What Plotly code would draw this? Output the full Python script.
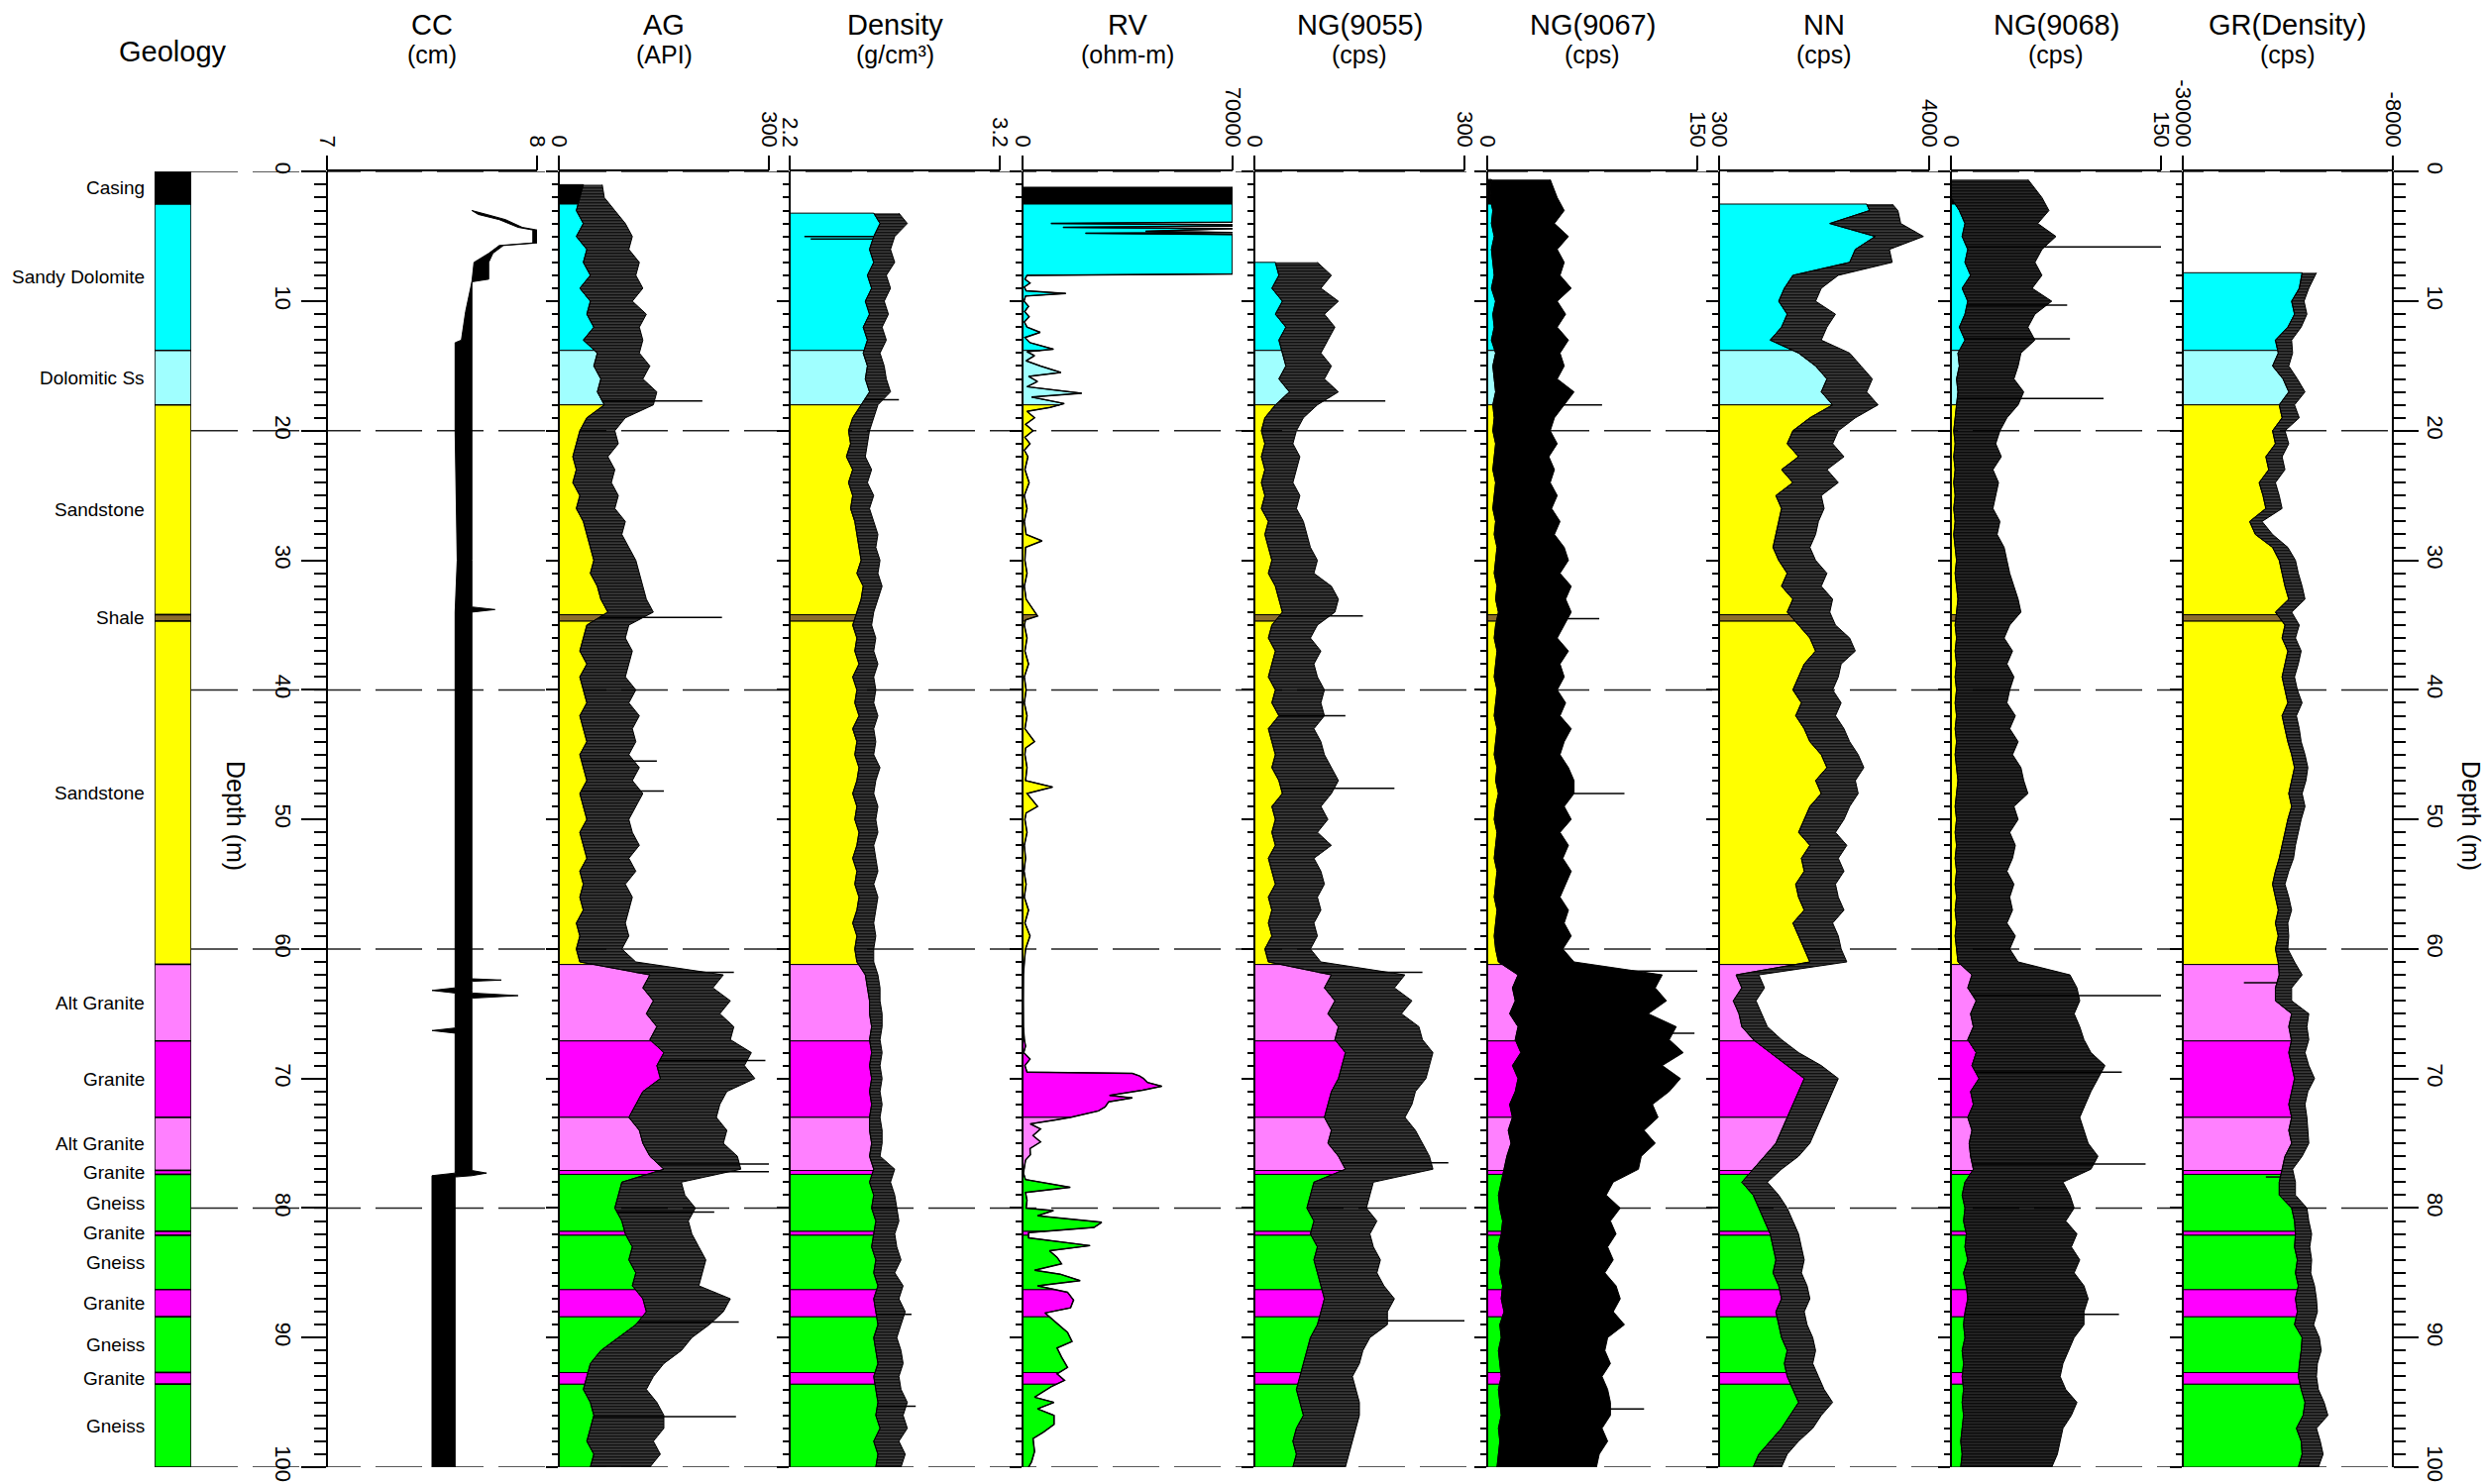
import numpy as np
import plotly.graph_objects as go

W, H = 2507, 1498
FONT = "Liberation Sans, Arial, sans-serif"

# ---------------- lithology column (depth in m) ----------------
LITH_TOP = [0.0, 2.5, 13.8, 18.0, 34.2, 34.7, 61.2, 67.1, 73.0, 77.1, 77.4,
            81.8, 82.1, 86.3, 88.4, 92.7, 93.6]
LITH_BOTTOM = [2.5, 13.8, 18.0, 34.2, 34.7, 61.2, 67.1, 73.0, 77.1, 77.4, 81.8,
               82.1, 86.3, 88.4, 92.7, 93.6, 100.0]
LITH_NAME = ["Casing", "Sandy Dolomite", "Dolomitic Ss", "Sandstone", "Shale",
             "Sandstone", "Alt Granite", "Granite", "Alt Granite", "Granite",
             "Gneiss", "Granite", "Gneiss", "Granite", "Gneiss", "Granite", "Gneiss"]
LITH_COLORS = {
    "Casing": "#000000", "Sandy Dolomite": "#00FFFF", "Dolomitic Ss": "#A0FFFF",
    "Sandstone": "#FFFF00", "Shale": "#8C6D2C", "Alt Granite": "#FF80FF",
    "Granite": "#FF00FF", "Gneiss": "#00FF00",
}

# ---------------- CC caliper (cm): low / high edge of the trace ----------------
CC_DEPTH = [3.0, 3.3, 3.7, 4.3, 4.5, 5.5, 5.7, 6.3, 7.0, 8.3,
            8.5, 10.8, 13.0, 13.2, 20, 30, 33.6, 33.8, 34.0, 40,
            50, 60, 62.3, 62.4, 62.5, 63.0, 63.2, 63.4, 63.6, 63.8,
            66.1, 66.3, 66.5, 77.1, 77.3, 77.5, 77.6, 100]
CC_LO = [7.69, 7.72, 7.82, 7.91, 7.98, 7.98, 7.82, 7.77, 7.70, 7.69,
         7.69, 7.66, 7.64, 7.61, 7.61, 7.62, 7.61, 7.61, 7.61, 7.61,
         7.61, 7.61, 7.61, 7.61, 7.61, 7.61, 7.50, 7.61, 7.61, 7.61,
         7.61, 7.50, 7.61, 7.61, 7.61, 7.50, 7.50, 7.50]
CC_HI = [7.69, 7.76, 7.85, 7.93, 8.00, 8.00, 7.84, 7.79, 7.77, 7.77,
         7.69, 7.69, 7.69, 7.69, 7.69, 7.69, 7.69, 7.80, 7.69, 7.69,
         7.69, 7.69, 7.69, 7.83, 7.69, 7.69, 7.69, 7.69, 7.91, 7.69,
         7.69, 7.69, 7.69, 7.69, 7.76, 7.69, 7.61, 7.61]

# ---------------- AG gamma (API) ----------------
AG_DEPTH = list(range(1, 101))
AG_LO = [35, 30, 25, 35, 25, 40, 35, 45, 30, 45,
         40, 50, 35, 55, 50, 60, 55, 65, 40, 30,
         25, 20, 25, 20, 30, 25, 35, 40, 45, 50,
         45, 55, 60, 70, 40, 35, 30, 40, 30, 35,
         40, 30, 35, 40, 30, 35, 40, 30, 35, 40,
         30, 35, 40, 30, 35, 30, 35, 25, 30, 25,
         30, 130, 120, 135, 125, 140, 130, 150, 140, 145,
         120, 110, 100, 115, 120, 130, 150, 90, 85, 80,
         90, 95, 105, 100, 110, 105, 120, 125, 110, 85,
         60, 45, 40, 35, 45, 50, 45, 40, 50, 45]
AG_HI = [62, 65, 80, 95, 105, 100, 115, 110, 120, 105,
         125, 115, 120, 115, 130, 120, 140, 135, 95, 80,
         85, 70, 80, 75, 85, 80, 95, 90, 100, 110,
         115, 120, 125, 135, 100, 95, 105, 100, 95, 110,
         100, 115, 105, 110, 100, 115, 105, 120, 110, 100,
         105, 115, 100, 110, 95, 105, 100, 95, 100, 90,
         110, 235, 220, 245, 230, 250, 245, 275, 265, 280,
         240, 230, 225, 240, 235, 255, 260, 175, 180, 195,
         185, 190, 200, 210, 205, 200, 245, 235, 215, 190,
         175, 150, 135, 125, 140, 150, 150, 135, 145, 130]
AG_SPIKE_DEPTH = [17.7, 34.4, 45.5, 47.8, 61.8, 68.6, 76.6, 77.2, 80.3, 88.8, 96.1]
AG_SPIKE_VALUE = [205, 233, 140, 150, 250, 295, 300, 310, 222, 257, 253]

# ---------------- Density (g/cm3) ----------------
DEN_DEPTH = [3.2] + list(range(4, 101))
DEN_LO = [2.60, 2.63, 2.60, 2.58, 2.60, 2.57, 2.59, 2.56, 2.58, 2.55,
          2.57, 2.55, 2.57, 2.56, 2.58, 2.54, 2.50, 2.48, 2.49, 2.47,
          2.50, 2.48, 2.50, 2.49, 2.51, 2.52, 2.53, 2.54, 2.52, 2.55,
          2.54, 2.52, 2.50, 2.52, 2.51, 2.53, 2.50, 2.52, 2.51, 2.53,
          2.50, 2.52, 2.51, 2.53, 2.52, 2.50, 2.52, 2.51, 2.53, 2.52,
          2.50, 2.52, 2.51, 2.53, 2.52, 2.50, 2.52, 2.51, 2.52, 2.56,
          2.57, 2.58, 2.58, 2.59, 2.58, 2.59, 2.58, 2.59, 2.58, 2.59,
          2.58, 2.58, 2.59, 2.58, 2.60, 2.58, 2.60, 2.59, 2.61, 2.60,
          2.59, 2.61, 2.60, 2.62, 2.60, 2.61, 2.62, 2.60, 2.61, 2.62,
          2.60, 2.61, 2.62, 2.61, 2.63, 2.60, 2.62, 2.61]
DEN_HI = [2.72, 2.76, 2.70, 2.68, 2.70, 2.66, 2.68, 2.65, 2.67, 2.64,
          2.66, 2.63, 2.65, 2.66, 2.68, 2.62, 2.60, 2.58, 2.57, 2.56,
          2.59, 2.57, 2.60, 2.58, 2.60, 2.62, 2.61, 2.63, 2.62, 2.64,
          2.62, 2.60, 2.59, 2.61, 2.60, 2.62, 2.60, 2.61, 2.60, 2.62,
          2.60, 2.61, 2.60, 2.63, 2.61, 2.60, 2.62, 2.61, 2.62, 2.60,
          2.61, 2.62, 2.60, 2.62, 2.61, 2.60, 2.61, 2.60, 2.60, 2.62,
          2.63, 2.63, 2.64, 2.64, 2.63, 2.64, 2.63, 2.64, 2.63, 2.64,
          2.63, 2.64, 2.64, 2.63, 2.70, 2.68, 2.70, 2.71, 2.72, 2.70,
          2.71, 2.73, 2.70, 2.74, 2.72, 2.75, 2.73, 2.71, 2.73, 2.74,
          2.72, 2.73, 2.76, 2.74, 2.76, 2.72, 2.75, 2.73]
DEN_SPIKE_DEPTH = [5.0, 5.2, 17.6, 88.2, 95.3]
DEN_SPIKE_VALUE = [2.27, 2.30, 2.72, 2.78, 2.80]

# ---------------- RV resistivity (ohm-m) ----------------
RV_DEPTH = [1.2, 2.5, 3.9, 4.0, 4.1, 4.2, 4.3, 4.4, 4.6, 4.7,
            4.75, 4.85, 7.9, 8.0, 8.3, 8.6, 8.9, 9.2, 9.4, 9.6,
            10.0, 10.4, 10.8, 11.2, 11.6, 12.0, 12.4, 12.8, 13.2, 13.7,
            13.9, 14.2, 14.6, 15.0, 15.5, 15.8, 16.2, 16.6, 17.1, 17.4,
            17.9, 18.2, 18.5, 19.0, 19.5, 20.0, 20.5, 21.0, 21.5, 22,
            23, 24, 25, 26, 27, 28, 28.5, 29, 30, 31,
            32, 33, 34.3, 34.6, 35, 36, 37, 38, 39, 40,
            41, 42, 43, 44, 44.5, 45, 46, 47, 47.5, 48,
            49, 49.5, 50, 51, 52, 53, 54, 55, 56, 57,
            58, 59, 60, 61, 62, 64, 66, 67, 67.5, 68,
            68.5, 69, 69.5, 69.6, 69.8, 70.0, 70.3, 70.6, 70.9, 71.3,
            71.5, 71.8, 72.2, 72.5, 73.0, 73.2, 73.5, 73.9, 74.4, 74.9,
            75.4, 75.9, 76.3, 77.3, 77.8, 78.4, 78.8, 79.4, 80.0, 80.2,
            80.6, 81.1, 81.5, 81.9, 82.3, 82.9, 83.3, 83.8, 84.3, 84.8,
            85.1, 85.6, 86.0, 86.5, 87.1, 87.7, 88.1, 88.9, 89.6, 90.3,
            90.8, 91.5, 92.3, 92.8, 93.3, 93.8, 94.6, 95.0, 95.5, 96.0,
            96.7, 97.3, 97.8, 98.8, 99.6, 100]
RV_VALUE = [70000, 70000, 70000, 9500, 70000, 70000, 13500, 70000, 41000, 70000,
            21000, 70000, 70000, 1500, 800, 2500, 600, 1200, 14400, 1000,
            500, 2000, 700, 2200, 600, 1500, 5900, 800, 2500, 10300,
            1500, 4000, 1200, 6000, 12800, 2000, 5000, 1500, 19700, 3000,
            13900, 9200, 1500, 4000, 1000, 3500, 800, 2500, 600, 1800,
            800, 2200, 600, 1500, 600, 1200, 6500, 1000, 800, 1500,
            600, 1200, 5000, 1000, 600, 1500, 800, 2000, 600, 1200,
            600, 1500, 800, 4000, 1000, 800, 1500, 1000, 10000, 1500,
            5000, 1200, 800, 1500, 600, 1000, 500, 1200, 600, 2000,
            800, 2500, 1000, 600, 300, 200, 300, 600, 1000, 400,
            2500, 800, 1500, 36600, 39000, 40300, 41600, 46400, 40000, 29000,
            36600, 28700, 27500, 25300, 15900, 11000, 2600, 6000, 3500, 6000,
            2500, 2600, 1000, 300, 1000, 15900, 1000, 1500, 1200, 10300,
            5000, 26400, 23800, 2000, 2000, 22500, 9000, 11500, 13000, 4000,
            12500, 19200, 5000, 15000, 17000, 16000, 7500, 11500, 15000, 16500,
            11500, 13000, 15000, 11500, 14000, 9500, 4000, 10500, 5000, 10500,
            10500, 7000, 3500, 4000, 3000, 2000]

# ---------------- NG(9055) (cps) ----------------
NG55_DEPTH = list(range(7, 101))
NG55_LO = [30, 35, 25, 40, 30, 45, 35, 40, 45, 35,
           50, 30, 15, 10, 15, 10, 15, 10, 15, 10,
           20, 15, 20, 25, 20, 30, 35, 40, 25, 20,
           30, 25, 20, 30, 25, 35, 20, 25, 30, 25,
           35, 40, 25, 30, 25, 30, 20, 25, 30, 20,
           25, 20, 25, 15, 20, 110, 100, 115, 105, 120,
           115, 130, 125, 120, 110, 105, 100, 110, 105, 120,
           130, 85, 80, 75, 85, 80, 90, 85, 90, 95,
           100, 95, 90, 80, 75, 70, 65, 60, 65, 70,
           60, 55, 60, 55]
NG55_HI = [90, 110, 95, 120, 100, 115, 105, 95, 110, 100,
           120, 90, 70, 60, 55, 65, 60, 55, 65, 60,
           70, 75, 80, 90, 85, 110, 120, 115, 90, 80,
           95, 85, 90, 100, 95, 100, 85, 95, 100, 110,
           120, 110, 95, 105, 90, 110, 85, 95, 100, 90,
           95, 85, 90, 80, 95, 215, 200, 225, 210, 235,
           240, 255, 250, 245, 230, 225, 215, 230, 240, 250,
           255, 170, 165, 160, 175, 165, 170, 180, 175, 185,
           200, 190, 190, 165, 155, 150, 140, 145, 150, 150,
           145, 140, 135, 130]
NG55_SPIKE_DEPTH = [17.7, 34.3, 42.0, 47.6, 61.8, 76.5, 88.7]
NG55_SPIKE_VALUE = [187, 155, 130, 200, 240, 277, 300]

# ---------------- NG(9067) (cps) ----------------
NG67_DEPTH = [0.6] + list(range(2, 101))
NG67_LO = [3, 2, 4, 3, 5, 3, 4, 5, 3, 6,
           4, 5, 3, 6, 4, 5, 6, 4, 5, 4,
           6, 5, 4, 6, 5, 4, 6, 5, 7, 6,
           5, 7, 6, 8, 6, 5, 7, 6, 5, 7,
           6, 5, 7, 6, 5, 7, 6, 8, 6, 5,
           7, 6, 5, 7, 6, 5, 7, 6, 5, 6,
           8, 22, 18, 20, 16, 22, 20, 24, 18, 22,
           20, 16, 18, 15, 17, 14, 12, 10, 8, 9,
           11, 10, 8, 10, 9, 11, 10, 12, 9, 10,
           8, 9, 10, 8, 9, 10, 8, 9, 8, 7]
NG67_HI = [45, 50, 55, 48, 58, 50, 55, 52, 60, 50,
           56, 50, 58, 52, 55, 50, 62, 55, 48, 45,
           50, 44, 48, 45, 50, 46, 52, 48, 55, 58,
           52, 60, 56, 60, 55, 50, 58, 52, 55, 50,
           56, 52, 60, 55, 52, 58, 62, 62, 55, 60,
           52, 58, 54, 60, 56, 52, 58, 55, 60, 54,
           62, 125, 120, 128, 115, 135, 130, 140, 125, 138,
           130, 118, 122, 112, 120, 110, 108, 90, 85, 95,
           88, 92, 86, 90, 84, 92, 95, 90, 98, 86,
           84, 88, 82, 86, 88, 88, 82, 86, 80, 78]
NG67_SPIKE_DEPTH = [18.0, 34.5, 48.0, 61.7, 66.5, 95.5]
NG67_SPIKE_VALUE = [82, 80, 98, 150, 148, 112]

# ---------------- NN neutron (cps) ----------------
NN_DEPTH = [2.5] + list(range(3, 101))
NN_LO = [2900, 2950, 2250, 3050, 2700, 2600, 1600, 1450, 1350, 1500,
         1400, 1200, 1700, 2000, 2200, 2100, 2300, 1900, 1600, 1500,
         1700, 1400, 1600, 1300, 1400, 1350, 1300, 1250, 1350, 1500,
         1400, 1600, 1500, 1700, 1900, 2000, 1800, 1700, 1600, 1750,
         1650, 1800, 1900, 2100, 2200, 2000, 2100, 1900, 1800, 1700,
         1900, 1750, 1800, 1650, 1700, 1800, 1600, 1700, 1800, 1900,
         600, 700, 550, 650, 700, 900, 1200, 1500, 1800, 1700,
         1600, 1500, 1400, 1300, 1100, 900, 700, 900, 1000, 1100,
         1200, 1250, 1300, 1250, 1350, 1400, 1300, 1350, 1400, 1500,
         1450, 1500, 1600, 1700, 1550, 1400, 1200, 1000, 900]
NN_HI = [3350, 3450, 3500, 3900, 3300, 3350, 2400, 2100, 2000, 2350,
         2200, 2100, 2600, 2800, 3000, 2900, 3100, 2700, 2400, 2300,
         2500, 2200, 2400, 2100, 2150, 2050, 2000, 1900, 2000, 2200,
         2100, 2300, 2250, 2350, 2600, 2700, 2450, 2400, 2300, 2450,
         2350, 2500, 2600, 2750, 2850, 2700, 2750, 2600, 2500, 2350,
         2550, 2400, 2500, 2350, 2400, 2500, 2300, 2400, 2450, 2550,
         1000, 1100, 950, 1050, 1150, 1400, 1700, 2100, 2400, 2300,
         2200, 2100, 2000, 1900, 1700, 1400, 1150, 1350, 1500, 1600,
         1700, 1750, 1800, 1750, 1850, 1900, 1800, 1850, 1950, 2000,
         1950, 2050, 2150, 2300, 2100, 1950, 1700, 1500, 1400]

# ---------------- NG(9068) (cps) ----------------
NG68_DEPTH = [0.6] + list(range(2, 101))
NG68_LO = [0, 0, 6, 10, 8, 12, 10, 14, 8, 12,
           10, 6, 10, 5, 6, 4, 5, 4, 3, 2,
           3, 2, 3, 2, 3, 2, 3, 2, 3, 4,
           3, 4, 5, 4, 3, 4, 3, 4, 3, 4,
           3, 4, 3, 4, 3, 4, 5, 4, 3, 4,
           3, 4, 3, 4, 3, 4, 3, 4, 3, 4,
           5, 15, 12, 18, 14, 16, 12, 18, 15, 20,
           14, 16, 12, 15, 13, 14, 16, 10, 8, 10,
           9, 11, 10, 12, 9, 11, 12, 10, 9, 10,
           8, 9, 8, 9, 8, 9, 8, 7, 8, 7]
NG68_HI = [55, 65, 70, 62, 75, 65, 60, 65, 58, 72,
           60, 55, 60, 50, 48, 45, 52, 48, 40, 35,
           32, 36, 30, 34, 32, 30, 35, 33, 38, 40,
           42, 45, 48, 50, 42, 38, 44, 40, 45, 42,
           40, 46, 42, 48, 44, 50, 52, 55, 45, 48,
           42, 46, 44, 40, 45, 42, 44, 40, 46, 42,
           48, 85, 90, 92, 88, 92, 95, 100, 110, 105,
           100, 96, 92, 95, 98, 105, 100, 80, 85, 88,
           82, 90, 86, 92, 88, 95, 98, 95, 95, 88,
           84, 80, 78, 82, 90, 86, 80, 78, 76, 72]
NG68_SPIKE_DEPTH = [5.8, 10.3, 12.9, 17.5, 63.6, 69.5, 76.6, 88.2]
NG68_SPIKE_VALUE = [150, 83, 85, 109, 150, 122, 139, 120]

# ---------------- GR (density tool) (cps) ----------------
GR_DEPTH = [7.8] + list(range(9, 101))
GR_LO = [-17500,
         -17800, -18600, -18300, -19000, -20300, -20000, -20600, -19500, -18900, -19900,
         -19600, -20600, -20300, -21300, -21000, -22000, -21600, -21300, -23000, -22400,
         -20600, -19900, -19600, -19300, -18900, -20300, -19300, -19600, -19000, -19300,
         -19600, -19300, -19000, -19600, -19300, -19000, -18600, -18300, -18600, -18900,
         -18600, -19000, -19300, -19600, -19900, -20300, -20600, -20300, -20000, -20300,
         -20000, -20300, -20000, -19900, -20300, -20300, -18600, -18900, -18600, -18900,
         -18600, -18300, -18600, -18900, -18600, -18900, -18600, -19300, -19600, -19900,
         -19900, -18600, -18300, -18200, -18300, -18000, -18200, -17900, -18200, -18000,
         -18300, -17500, -17600, -17800, -17900, -17600, -17200, -17400, -18100, -17600,
         -17500, -17900]
GR_HI = [-16000,
         -16800, -17300, -17000, -17600, -18600, -18500, -18900, -18000, -17200, -18300,
         -17800, -19300, -18900, -19600, -19300, -20300, -19900, -19600, -21700, -20600,
         -19000, -18200, -17900, -17500, -17200, -18600, -17800, -18200, -17600, -17900,
         -18300, -18000, -17500, -18100, -17800, -17600, -17200, -16900, -17100, -17500,
         -17200, -17600, -17900, -18200, -18400, -18900, -19300, -18900, -18600, -19000,
         -18900, -19000, -18300, -17500, -18600, -18600, -16800, -17000, -16800, -17200,
         -16800, -16200, -16900, -17200, -17000, -16900, -16800, -17500, -18500, -18200,
         -18200, -17000, -16800, -16500, -16700, -16500, -16600, -16200, -16000, -15900,
         -16300, -15700, -15500, -15900, -16000, -15800, -15200, -14800, -16000, -15600,
         -15300, -15800]
GR_SPIKE_DEPTH = [62.6, 77.6]
GR_SPIKE_VALUE = [-23600, -21300]

# ---------------- track headers and scales ----------------
TRACK_TITLES = ["CC", "AG", "Density", "RV", "NG(9055)", "NG(9067)", "NN", "NG(9068)", "GR(Density)"]
TRACK_UNITS = ["(cm)", "(API)", "(g/cm³)", "(ohm-m)", "(cps)", "(cps)", "(cps)", "(cps)", "(cps)"]
TRACK_MIN = [7, 0, 2.2, 0, 0, 0, 300, 0, -30000]
TRACK_MAX = [8, 300, 3.2, 70000, 300, 150, 4000, 150, -8000]
TRACK_TICKTEXT = [["7", "8"], ["0", "300"], ["2.2", "3.2"], ["0", "70000"], ["0", "300"],
                  ["0", "150"], ["300", "4000"], ["0", "150"], ["-30000", "-8000"]]
DEPTH_GRID_LINES = [0, 20, 40, 60, 80, 100]

# ---------------- page geometry (pixels) ----------------
TRACK_LEFT_PX = [330, 564, 797, 1032, 1266, 1501, 1735, 1969, 2203]
TRACK_WIDTH_PX = 212
DEPTH_TOP_PX, DEPTH_BOTTOM_PX = 173.3, 1481.0
LITH_COL_PX = (156, 193)

fig = go.Figure()


def ax(k, letter):
    return letter if k == 1 else f"{letter}{k}"


def polygon(k, xs, ys, color, width=1.0, pattern=None):
    fig.add_trace(go.Scatter(x=xs, y=ys, mode="lines", fill="toself", fillcolor=color,
                             fillpattern=pattern,
                             line=dict(color="black", width=width),
                             xaxis=ax(k, "x"), yaxis=ax(k, "y"),
                             hoverinfo="skip", showlegend=False))


def lith_fill(k, depth, curve, xmin):
    """Shade from the track's left edge to the curve with the lithology colours."""
    d = np.asarray(depth, float)
    c = np.asarray(curve, float)
    for top, bot, name in zip(LITH_TOP, LITH_BOTTOM, LITH_NAME):
        t, b = max(top, d[0]), min(bot, d[-1])
        if b <= t:
            continue
        inner = (d > t) & (d < b)
        ys = [t, t] + d[inner].tolist() + [b, b]
        xs = [xmin, float(np.interp(t, d, c))] + c[inner].tolist() + [float(np.interp(b, d, c)), xmin]
        polygon(k, xs, ys, LITH_COLORS[name])


def trace_band(k, depth, lo, hi, solidity=None):
    """Dense, noisy log trace drawn as the band it sweeps between lo and hi."""
    ys = list(depth) + list(depth)[::-1]
    xs = list(lo) + list(hi)[::-1]
    pattern = None
    if solidity is not None:
        pattern = dict(shape="-", size=3, solidity=solidity, fgcolor="black",
                       bgcolor="rgba(0,0,0,0)", fillmode="replace")
    polygon(k, xs, ys, "black", 1.0, pattern)


def spikes(k, depth, base, sdepth, svalue):
    xs, ys = [], []
    for sd, sv in zip(sdepth, svalue):
        xs += [float(np.interp(sd, depth, base)), sv, None]
        ys += [sd, sd, None]
    fig.add_trace(go.Scatter(x=xs, y=ys, mode="lines", line=dict(color="black", width=1.5),
                             xaxis=ax(k, "x"), yaxis=ax(k, "y"),
                             hoverinfo="skip", showlegend=False))


# lithology column
fig.add_trace(go.Bar(
    x=[0.5] * len(LITH_TOP), y=[b - t for t, b in zip(LITH_TOP, LITH_BOTTOM)], base=LITH_TOP,
    width=1, marker=dict(color=[LITH_COLORS[n] for n in LITH_NAME], line=dict(color="black", width=1.5)),
    xaxis="x", yaxis="y", hoverinfo="skip", showlegend=False))

# CC
trace_band(2, CC_DEPTH, CC_LO, CC_HI)

# band-style logs with lithology shading (last item: hatch density of the trace band)
band_logs = [
    (3, AG_DEPTH, AG_LO, AG_HI, AG_SPIKE_DEPTH, AG_SPIKE_VALUE, 0.85),
    (4, DEN_DEPTH, DEN_LO, DEN_HI, DEN_SPIKE_DEPTH, DEN_SPIKE_VALUE, 0.85),
    (6, NG55_DEPTH, NG55_LO, NG55_HI, NG55_SPIKE_DEPTH, NG55_SPIKE_VALUE, 0.85),
    (7, NG67_DEPTH, NG67_LO, NG67_HI, NG67_SPIKE_DEPTH, NG67_SPIKE_VALUE, None),
    (8, NN_DEPTH, NN_LO, NN_HI, [], [], 0.85),
    (9, NG68_DEPTH, NG68_LO, NG68_HI, NG68_SPIKE_DEPTH, NG68_SPIKE_VALUE, 0.9),
    (10, GR_DEPTH, GR_LO, GR_HI, GR_SPIKE_DEPTH, GR_SPIKE_VALUE, 0.85),
]
for k, dep, lo, hi, sd, sv, sol in band_logs:
    lith_fill(k, dep, lo, TRACK_MIN[k - 2])
    trace_band(k, dep, lo, hi, sol)
    if sd:
        spikes(k, dep, lo, sd, sv)

# RV: single smooth curve
lith_fill(5, RV_DEPTH, RV_VALUE, TRACK_MIN[3])
fig.add_trace(go.Scatter(x=RV_VALUE, y=RV_DEPTH, mode="lines", line=dict(color="black", width=1.5),
                         xaxis="x5", yaxis="y5", hoverinfo="skip", showlegend=False))

# placeholder trace that carries the right-hand depth axis
fig.add_trace(go.Scatter(x=[None], y=[None], xaxis="x10", yaxis="y11", showlegend=False, hoverinfo="skip"))

# ---------------- layout ----------------
ydom = [1 - DEPTH_BOTTOM_PX / H, 1 - DEPTH_TOP_PX / H]
layout = dict(
    width=W, height=H, margin=dict(l=0, r=0, t=0, b=0, pad=0, autoexpand=False),
    paper_bgcolor="white", plot_bgcolor="rgba(0,0,0,0)",
    showlegend=False, hovermode=False,
    font=dict(family=FONT, color="black"),
)
layout["xaxis"] = dict(domain=[LITH_COL_PX[0] / W, LITH_COL_PX[1] / W], range=[0, 1],
                       visible=False, anchor="y", fixedrange=True)
layout["yaxis"] = dict(domain=ydom, range=[100, 0], visible=False, anchor="x", fixedrange=True)

depth_tick_style = dict(ticks="outside", tickwidth=1.5, tickcolor="black", tick0=0, dtick=10,
                        showline=True, linecolor="black", linewidth=1.5,
                        tickangle=90, tickfont=dict(size=22), ticklabelstandoff=0,
                        showgrid=False, zeroline=False, fixedrange=True, automargin=False)
for i in range(9):
    k = i + 2
    left = TRACK_LEFT_PX[i]
    layout[f"xaxis{k}"] = dict(
        domain=[left / W, (left + TRACK_WIDTH_PX) / W], range=[TRACK_MIN[i], TRACK_MAX[i]],
        side="top", anchor=f"y{k}", showline=True, linecolor="black", linewidth=1.5,
        ticks="outside", ticklen=15, tickwidth=1.5, tickcolor="black",
        tickmode="array", tickvals=[TRACK_MIN[i], TRACK_MAX[i]], ticktext=TRACK_TICKTEXT[i],
        tickangle=90, tickfont=dict(size=22), ticklabelstandoff=0, automargin=False,
        showgrid=False, zeroline=False, fixedrange=True)
    is_depth = i == 0
    layout[f"yaxis{k}"] = dict(
        domain=ydom, range=[100, 0], matches="y", anchor="free", position=left / W,
        ticklen=25 if is_depth else 12,
        minor=dict(dtick=1, ticks="outside", ticklen=12 if is_depth else 6,
                   tickwidth=1.5, tickcolor="black"),
        showticklabels=is_depth, **depth_tick_style)
layout["yaxis11"] = dict(
    domain=ydom, range=[100, 0], matches="y", anchor="free", side="right",
    position=(TRACK_LEFT_PX[-1] + TRACK_WIDTH_PX) / W, ticklen=25,
    minor=dict(dtick=1, ticks="outside", ticklen=12, tickwidth=1.5, tickcolor="black"),
    showticklabels=True, **depth_tick_style)

# dashed depth grid across the whole log
layout["shapes"] = [
    dict(type="line", xref="paper", yref="y", x0=LITH_COL_PX[1] / W,
         x1=(TRACK_LEFT_PX[-1] + TRACK_WIDTH_PX) / W, y0=d, y1=d, layer="below",
         line=dict(color="#222222", width=1.5, dash="47px,15px"))
    for d in DEPTH_GRID_LINES
]


def label(x, y, text, size, yref="paper", xanchor="center", angle=0):
    return dict(x=x, y=y, xref="paper", yref=yref, text=text, showarrow=False,
                xanchor=xanchor, yanchor="middle", textangle=angle, font=dict(size=size))


ann = [label((LITH_COL_PX[0] + LITH_COL_PX[1]) / 2 / W, 1 - 52 / H, "Geology", 29)]
for i in range(9):
    cx = (TRACK_LEFT_PX[i] + TRACK_WIDTH_PX / 2) / W
    ann.append(label(cx, 1 - 25 / H, TRACK_TITLES[i], 29))
    ann.append(label(cx, 1 - 55 / H, TRACK_UNITS[i], 25))
for top, bot, name in zip(LITH_TOP, LITH_BOTTOM, LITH_NAME):
    ann.append(label(148 / W, (top + bot) / 2, name, 19, yref="y", xanchor="right"))
for xpx in (238, 2494):
    ann.append(label(xpx / W, 1 - 823 / H, "Depth (m)", 25, angle=90))
layout["annotations"] = ann

fig.update_layout(**layout)
fig.write_html("out.html", config={"displayModeBar": False},
               post_script="document.body.style.margin='0';document.body.style.overflow='hidden';")
